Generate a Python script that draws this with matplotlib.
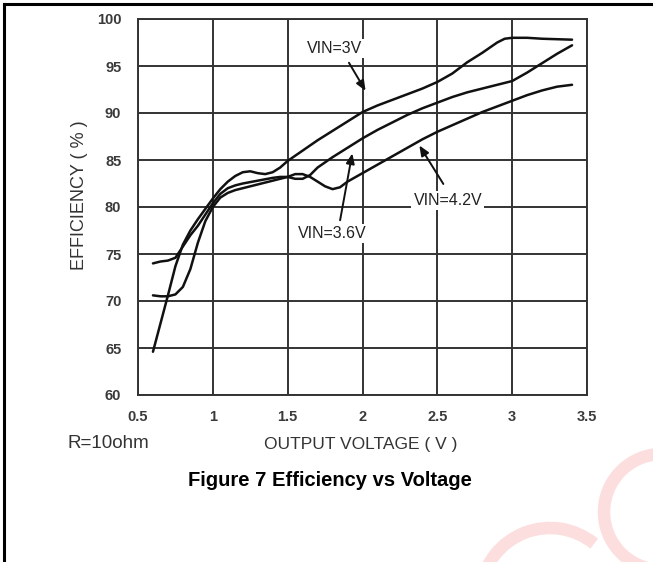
import matplotlib
matplotlib.use("Agg")
import matplotlib.pyplot as plt
from matplotlib.lines import Line2D
from matplotlib.patches import Arc

# Data (output voltage V -> efficiency %)
v_3v = [0.6, 0.65, 0.7, 0.75, 0.8, 0.85, 0.9, 0.95, 1.0, 1.05, 1.1, 1.15, 1.2, 1.25,
        1.3, 1.35, 1.4, 1.45, 1.5, 1.6, 1.7, 1.8, 1.9, 2.0, 2.1, 2.2, 2.3, 2.4, 2.5,
        2.6, 2.7, 2.8, 2.9, 2.95, 3.0, 3.1, 3.2, 3.3, 3.4]
eff_3v = [64.6, 67.6, 70.6, 73.7, 76.0, 77.5, 78.7, 79.8, 80.9, 81.9, 82.7, 83.3, 83.7, 83.8,
          83.6, 83.5, 83.7, 84.2, 84.9, 86.0, 87.1, 88.1, 89.1, 90.1, 90.8, 91.4, 92.0, 92.6, 93.3,
          94.2, 95.4, 96.4, 97.5, 97.9, 98.0, 98.0, 97.9, 97.85, 97.8]

v_36v = [0.6, 0.65, 0.7, 0.75, 0.8, 0.85, 0.9, 0.95, 1.0, 1.05, 1.1, 1.15, 1.2, 1.3,
         1.4, 1.45, 1.5, 1.55, 1.6, 1.65, 1.7, 1.8, 1.9, 2.0, 2.1, 2.2, 2.3, 2.4, 2.5,
         2.6, 2.7, 2.8, 2.9, 3.0, 3.1, 3.2, 3.3, 3.4]
eff_36v = [74.0, 74.2, 74.3, 74.6, 75.8, 77.0, 78.0, 79.2, 80.4, 81.4, 82.0, 82.3, 82.5, 82.8,
           83.1, 83.2, 83.2, 83.0, 83.0, 83.4, 84.2, 85.3, 86.3, 87.3, 88.2, 89.0, 89.8, 90.5, 91.1,
           91.7, 92.2, 92.6, 93.0, 93.4, 94.3, 95.3, 96.3, 97.2]

v_42v = [0.6, 0.65, 0.7, 0.75, 0.8, 0.85, 0.9, 0.95, 1.0, 1.05, 1.1, 1.15, 1.2, 1.3,
         1.4, 1.5, 1.55, 1.6, 1.65, 1.7, 1.75, 1.8, 1.85, 1.9, 2.0, 2.1, 2.2, 2.3, 2.4,
         2.5, 2.6, 2.7, 2.8, 2.9, 3.0, 3.1, 3.2, 3.3, 3.4]
eff_42v = [70.6, 70.5, 70.5, 70.7, 71.5, 73.4, 76.2, 78.5, 80.0, 81.0, 81.5, 81.8, 82.0, 82.4,
           82.8, 83.2, 83.5, 83.5, 83.2, 82.7, 82.2, 81.9, 82.1, 82.7, 83.6, 84.5, 85.4, 86.3, 87.2,
           88.0, 88.7, 89.4, 90.1, 90.7, 91.3, 91.9, 92.4, 92.8, 93.0]

x_ticks = [0.5, 1, 1.5, 2, 2.5, 3, 3.5]
x_labels = ["0.5", "1", "1.5", "2", "2.5", "3", "3.5"]
y_ticks = [60, 65, 70, 75, 80, 85, 90, 95, 100]

W, H = 653, 562
fig = plt.figure(figsize=(W / 100, H / 100), dpi=100)
fig.patch.set_facecolor("white")

# faint red watermark arcs, bottom right
wm = "#fcdede"
fig.add_artist(Arc((662 / W, 1 - 512 / H), 116 / W, 116 / H, theta1=95, theta2=265,
                   color=wm, lw=9, transform=fig.transFigure))
fig.add_artist(Arc((550 / W, 1 - 598 / H), 140 / W, 140 / H, theta1=55, theta2=170,
                   color=wm, lw=9, transform=fig.transFigure))

# outer frame (top and left edges only)
fig.add_artist(Line2D([4 / W, 1], [1 - 4 / H, 1 - 4 / H], color="black", lw=2.2))
fig.add_artist(Line2D([4 / W, 4 / W], [0, 1 - 4 / H], color="black", lw=2.2))

ax = fig.add_axes([138 / W, 1 - 395 / H, (587 - 138) / W, (395 - 19) / H])
ax.set_xlim(0.5, 3.5)
ax.set_ylim(60, 100)
ax.set_xticks(x_ticks)
ax.set_xticklabels(x_labels)
ax.set_yticks(y_ticks)
ax.grid(True, color="#333333", lw=1.4)
ax.set_axisbelow(True)
for s in ax.spines.values():
    s.set_color("#333333")
    s.set_linewidth(1.4)
ax.tick_params(length=0, pad=12, labelcolor="#3a3a3a")
for lab in ax.get_xticklabels() + ax.get_yticklabels():
    lab.set_family(["Liberation Sans", "DejaVu Sans"])
    lab.set_fontweight("bold")
    lab.set_fontsize(10.5)
ax.tick_params(axis="x", pad=11)

for v, e in [(v_3v, eff_3v), (v_36v, eff_36v), (v_42v, eff_42v)]:
    ax.plot(v, e, color="#111111", lw=1.8, solid_capstyle="round", zorder=3)

font = ["Liberation Sans", "DejaVu Sans"]
box = dict(facecolor="white", edgecolor="none", pad=1.5)
arrow = dict(arrowstyle="-|>,head_length=0.6,head_width=0.25", color="#111111", lw=1.4)
ax.text(1.81, 96.9, "VIN=3V", family=font, fontsize=11.5, color="#222222",
        ha="center", va="center", bbox=box, zorder=4)
ax.annotate("", xy=(2.03, 92.1), xytext=(1.9, 95.6), arrowprops=arrow, zorder=4)
ax.text(1.8, 77.2, "VIN=3.6V", family=font, fontsize=11.5, color="#222222",
        ha="center", va="center", bbox=box, zorder=4)
ax.annotate("", xy=(1.935, 86.0), xytext=(1.847, 78.3), arrowprops=arrow, zorder=4)
ax.text(2.57, 80.7, "VIN=4.2V", family=font, fontsize=11.5, color="#222222",
        ha="center", va="center", bbox=box, zorder=4)
ax.annotate("", xy=(2.37, 86.8), xytext=(2.55, 82.2), arrowprops=arrow, zorder=4)

fig.text(80 / W, 1 - 195 / H, "EFFICIENCY ( % )", family=font, fontsize=13, color="#333333",
         rotation=90, ha="center", va="center")
fig.text(361 / W, 1 - 444 / H, "OUTPUT VOLTAGE ( V )", family=font, fontsize=12.5, color="#333333",
         ha="center", va="center")
fig.text(108 / W, 1 - 444 / H, "R=10ohm", family=font, fontsize=13.5, color="#333333",
         ha="center", va="center")
fig.text(330 / W, 1 - 480 / H, "Figure 7 Efficiency vs Voltage", family=font, fontsize=14.5,
         fontweight="bold", color="black", ha="center", va="center")

fig.savefig("out.png", dpi=100, facecolor="white")
